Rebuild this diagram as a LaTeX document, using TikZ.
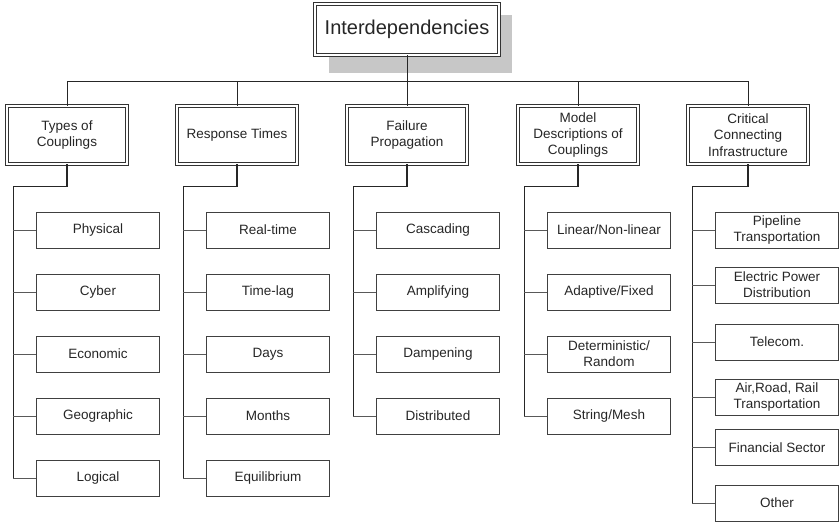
\documentclass[tikz,border=0pt]{standalone}
\usepackage{fontspec}
\setmainfont{Liberation Sans}
\usepackage{tikz}

\begin{document}
\begin{tikzpicture}[x=1pt,y=-1pt,
	topbox/.style={draw=black!80,fill=white,double,line width=0.7pt,double distance=2.2pt,minimum width=184pt,minimum height=51pt,inner sep=0pt,text=black!85,font=\fontsize{20}{24}\selectfont},
	catbox/.style={draw=black!80,fill=white,double,line width=0.7pt,double distance=2.2pt,minimum width=120pt,minimum height=58pt,inner sep=0pt,align=center,text=black!85,font=\fontsize{13.5}{16.3}\selectfont},
	leafbox/.style={draw=black!75,line width=0.8pt,minimum width=123pt,minimum height=36pt,inner sep=0pt,align=center,text=black!85,font=\fontsize{13.5}{16}\selectfont},
	spine/.style={line width=1.2pt,black!85},
	branch/.style={line width=0.8pt,black!65}]
	\useasboundingbox (0,0) rectangle (839,524);

	\fill[black!22] (329,15) rectangle (512,73);
	\node[topbox] (top) at (407,29.5) {Interdependencies};

	\node[catbox] (types) at (67,135) {Types of\\Couplings};
	\node[catbox] (resp) at (237,135) {Response Times};
	\node[catbox] (fail) at (407,135) {Failure\\Propagation};
	\node[catbox] (model) at (578,135) {Model\\Descriptions of\\Couplings};
	\node[catbox] (crit) at (748,135) {Critical\\Connecting\\Infrastructure};

	\coordinate (bus) at (0,81);
	\draw[line width=0.9pt,black!85] (top.south) -- (top.south |- bus);
	\draw[line width=0.9pt,black!85] (types.north) -- (types.north |- bus) -- (crit.north |- bus) -- (crit.north);
	\draw[line width=0.9pt,black!85] (resp.north) -- (resp.north |- bus);
	\draw[line width=0.9pt,black!85] (fail.north) -- (fail.north |- bus);
	\draw[line width=0.9pt,black!85] (model.north) -- (model.north |- bus);

	\node[leafbox] (phys) at (98,230) {Physical};
	\node[leafbox] (cyber) at (98,292) {Cyber};
	\node[leafbox] (econ) at (98,354) {Economic};
	\node[leafbox] (geo) at (98,416) {Geographic};
	\node[leafbox] (logic) at (98,478) {Logical};

	\node[leafbox] (real) at (268,230) {Real-time};
	\node[leafbox] (lag) at (268,292) {Time-lag};
	\node[leafbox] (days) at (268,354) {Days};
	\node[leafbox] (months) at (268,416) {Months};
	\node[leafbox] (equil) at (268,478) {Equilibrium};

	\node[leafbox] (casc) at (438,230) {Cascading};
	\node[leafbox] (ampl) at (438,292) {Amplifying};
	\node[leafbox] (damp) at (438,354) {Dampening};
	\node[leafbox] (distr) at (438,416) {Distributed};

	\node[leafbox] (lin) at (609,230) {Linear/Non-linear};
	\node[leafbox] (adapt) at (609,292) {Adaptive/Fixed};
	\node[leafbox] (determ) at (609,354) {Deterministic/\\Random};
	\node[leafbox] (mesh) at (609,416) {String/Mesh};

	\node[leafbox] (pipe) at (777,230.5) {Pipeline\\Transportation};
	\node[leafbox] (power) at (777,285) {Electric Power\\Distribution};
	\node[leafbox] (tele) at (777,342) {Telecom.};
	\node[leafbox] (trans) at (777,397.5) {Air,Road, Rail\\Transportation};
	\node[leafbox] (fin) at (777,447.5) {Financial Sector};
	\node[leafbox] (other) at (777,503) {Other};

	\draw[spine] (types.south) -- ++(0,22) -| ([xshift=-23pt]logic.west);
	\draw[spine] (resp.south) -- ++(0,22) -| ([xshift=-23pt]equil.west);
	\draw[spine] (fail.south) -- ++(0,22) -| ([xshift=-23pt]distr.west);
	\draw[spine] (model.south) -- ++(0,22) -| ([xshift=-23pt]mesh.west);
	\draw[spine] (crit.south) -- ++(0,22) -| ([xshift=-23pt]other.west);

	\draw[branch] (phys.west) -- ++(-23,0);
	\draw[branch] (cyber.west) -- ++(-23,0);
	\draw[branch] (econ.west) -- ++(-23,0);
	\draw[branch] (geo.west) -- ++(-23,0);
	\draw[branch] (logic.west) -- ++(-23,0);

	\draw[branch] (real.west) -- ++(-23,0);
	\draw[branch] (lag.west) -- ++(-23,0);
	\draw[branch] (days.west) -- ++(-23,0);
	\draw[branch] (months.west) -- ++(-23,0);
	\draw[branch] (equil.west) -- ++(-23,0);

	\draw[branch] (casc.west) -- ++(-23,0);
	\draw[branch] (ampl.west) -- ++(-23,0);
	\draw[branch] (damp.west) -- ++(-23,0);
	\draw[branch] (distr.west) -- ++(-23,0);

	\draw[branch] (lin.west) -- ++(-23,0);
	\draw[branch] (adapt.west) -- ++(-23,0);
	\draw[branch] (determ.west) -- ++(-23,0);
	\draw[branch] (mesh.west) -- ++(-23,0);

	\draw[branch] (pipe.west) -- ++(-23,0);
	\draw[branch] (power.west) -- ++(-23,0);
	\draw[branch] (tele.west) -- ++(-23,0);
	\draw[branch] (trans.west) -- ++(-23,0);
	\draw[branch] (fin.west) -- ++(-23,0);
	\draw[branch] (other.west) -- ++(-23,0);
\end{tikzpicture}
\end{document}
